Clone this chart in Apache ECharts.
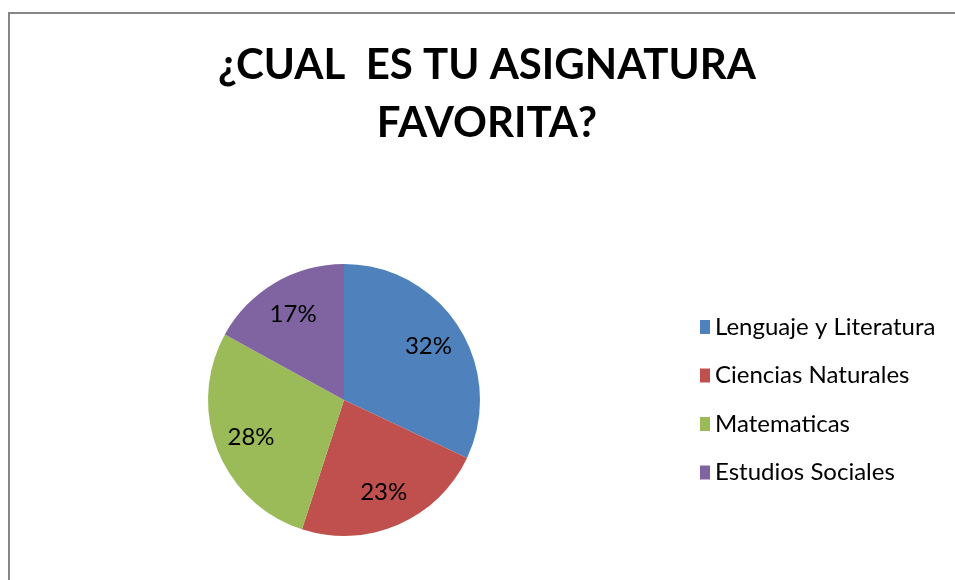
<!DOCTYPE html>
<html>
<head>
<meta charset="utf-8">
<style>
  html, body { margin: 0; padding: 0; background: #fff; }
  #main { width: 955px; height: 580px; }
</style>
<script src="https://cdn.jsdelivr.net/npm/echarts@6/dist/echarts.min.js"></script>
</head>
<body>
<div id="main"></div>
<script>
// datos del grafico
var categorias = ["Lenguaje y Literatura", "Ciencias Naturales", "Matematicas", "Estudios Sociales"];
var valores = [32, 23, 28, 17];
var colores = ["#4F81BD", "#C0504D", "#9BBB59", "#8064A2"];
var titulo = "¿CUAL  ES TU ASIGNATURA\nFAVORITA?";

(function () {
  var myChart = echarts.init(document.getElementById("main"));
  var datos = categorias.map(function (c, i) {
    return { name: c, value: valores[i] };
  });
  var option = {
    animation: false,
    color: colores,
    title: {
      text: titulo,
      left: 487,
      textAlign: "center",
      top: 36,
      padding: 0,
      textStyle: {
        fontFamily: "Lato",
        fontWeight: "bold",
        fontSize: 42,
        lineHeight: 58,
        color: "#000"
      }
    },
    legend: {
      orient: "vertical",
      left: 700,
      top: 315,
      padding: 0,
      icon: "rect",
      itemWidth: 10,
      itemHeight: 14,
      itemGap: 24.5,
      data: categorias,
      textStyle: {
        fontFamily: "Lato",
        fontSize: 24,
        lineHeight: 24,
        color: "#000"
      }
    },
    graphic: [
      {
        type: "rect",
        shape: { x: 9, y: 13, width: 1200, height: 1000 },
        style: { fill: "none", stroke: "#868686", lineWidth: 2 },
        silent: true
      }
    ],
    series: [
      {
        name: "asignatura",
        type: "pie",
        center: [344, 400],
        radius: [0, 136],
        startAngle: 90,
        clockwise: true,
        label: { show: false },
        labelLine: { show: false },
        data: datos
      },
      {
        // serie transparente solo para colocar las etiquetas
        name: "etiquetas",
        type: "pie",
        center: [344, 400],
        radius: [58, 136],
        startAngle: 90,
        clockwise: true,
        silent: true,
        legendHoverLink: false,
        itemStyle: { color: "transparent" },
        label: {
          show: true,
          position: "inside",
          formatter: "{c}%",
          fontFamily: "Lato",
          fontSize: 24,
          color: "#000"
        },
        labelLine: { show: false },
        data: datos
      }
    ]
  };
  myChart.setOption(option);
})();
</script>
</body>
</html>
